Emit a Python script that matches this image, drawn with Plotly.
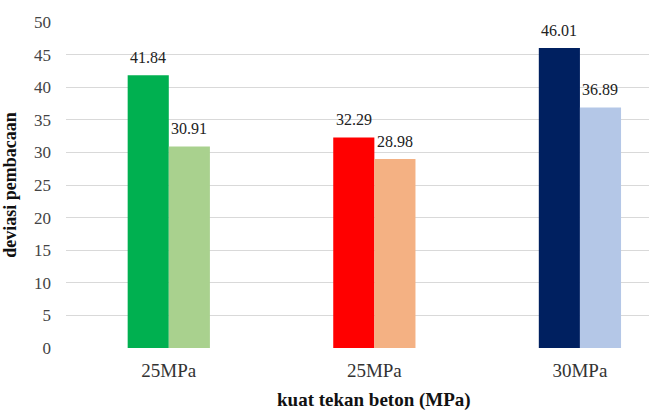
import plotly.graph_objects as go

# Strength classes along the x axis (two groups share the same label)
categories = ["25MPa", "25MPa", "30MPa"]
positions = [0, 1, 2]

# Reading deviation per strength class, two measurements each
series_a = [41.84, 32.29, 46.01]
series_b = [30.91, 28.98, 36.89]

colors_a = ["#00B050", "#FF0000", "#002060"]
colors_b = ["#A9D18E", "#F4B183", "#B4C7E7"]

y_ticks = [0, 5, 10, 15, 20, 25, 30, 35, 40, 45, 50]

serif = "Liberation Serif, Times New Roman, serif"
bar_w = 0.2

fig = go.Figure()
for vals, cols, off in [(series_a, colors_a, -bar_w), (series_b, colors_b, 0.0)]:
    fig.add_trace(go.Bar(
        x=positions, y=vals, width=bar_w, offset=off,
        marker=dict(color=cols, line=dict(width=0)),
        showlegend=False, hoverinfo="x+y",
    ))
    # value labels placed above each bar
    for p, v in zip(positions, vals):
        fig.add_annotation(
            x=p + off + bar_w / 2, y=v, xref="x", yref="y",
            text=f"{v:.2f}", showarrow=False, yshift=18,
            font=dict(family=serif, size=16, color="#222222"),
        )

fig.update_layout(
    width=649, height=410,
    margin=dict(l=66, r=0, t=22, b=62),
    plot_bgcolor="white", paper_bgcolor="white",
    font=dict(family=serif, color="#333333"),
    barmode="overlay",
)
fig.update_xaxes(
    range=[-0.5, 2.336], tickvals=positions, ticktext=categories,
    tickfont=dict(family=serif, size=19, color="#333333"),
    showgrid=False, zeroline=False, showline=False, ticks="",
    ticklabelstandoff=9,
)
fig.update_yaxes(
    range=[0, 50], tickvals=y_ticks,
    tickfont=dict(family=serif, size=17, color="#444444"),
    showgrid=True, gridcolor="#D9D9D9", gridwidth=1,
    zeroline=False, showline=False, ticks="",
    ticklabelstandoff=14,
    title=dict(text="<b>deviasi pembacaan</b>", font=dict(family=serif, size=18, color="#111111"), standoff=12),
)
fig.add_annotation(
    text="<b>kuat tekan beton (MPa)</b>", xref="x", x=1, yref="paper", y=-0.16,
    yanchor="middle", showarrow=False,
    font=dict(family=serif, size=19, color="#111111"),
)

fig.write_html("out.html")
